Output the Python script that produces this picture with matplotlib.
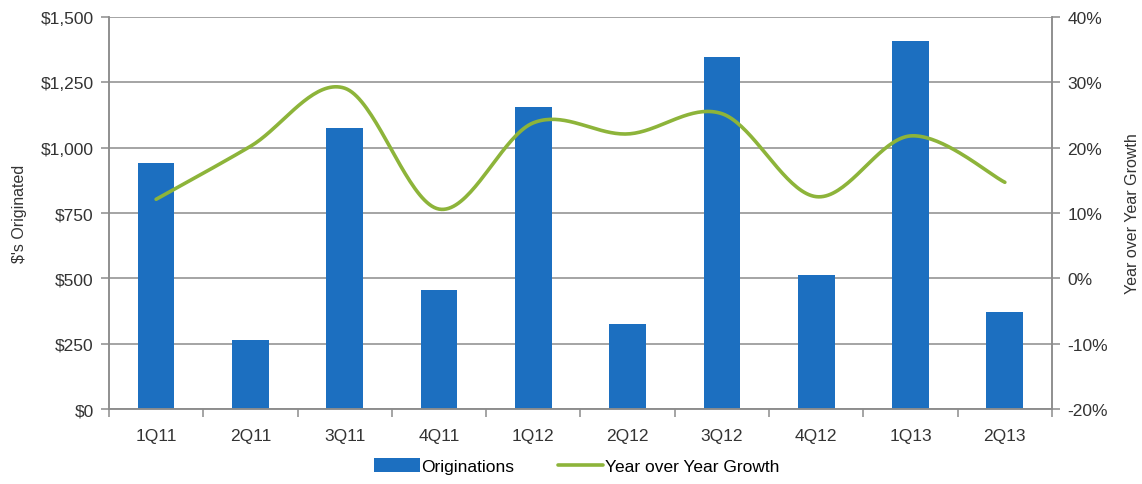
import numpy as np
import matplotlib
matplotlib.use('Agg')
import matplotlib.pyplot as plt
from matplotlib.ticker import FuncFormatter, FixedLocator

plt.rcParams['font.family'] = ['Liberation Sans', 'DejaVu Sans']

quarters = ['1Q11', '2Q11', '3Q11', '4Q11', '1Q12', '2Q12', '3Q12', '4Q12', '1Q13', '2Q13']
originations = [941, 264, 1075, 456, 1156, 325, 1347, 512, 1408, 371]
yoy_growth = [12.1, 20.2, 29.1, 10.6, 23.8, 22.1, 25.2, 12.5, 21.8, 14.7]

BLUE = '#1c6fc0'
GREEN = '#8db43a'
GRAY = '#8c8c8c'


def smooth_curve(x, y, steps=40):
    # cubic bezier through points, catmull-rom style tangents (like spreadsheet "smoothed line")
    x = np.asarray(x, float)
    y = np.asarray(y, float)
    n = len(x)
    xs, ys = [], []
    for i in range(n - 1):
        p0 = (x[max(i - 1, 0)], y[max(i - 1, 0)])
        p1 = (x[i], y[i])
        p2 = (x[i + 1], y[i + 1])
        p3 = (x[min(i + 2, n - 1)], y[min(i + 2, n - 1)])
        c1 = (p1[0] + (p2[0] - p0[0]) / 6, p1[1] + (p2[1] - p0[1]) / 6)
        c2 = (p2[0] - (p3[0] - p1[0]) / 6, p2[1] - (p3[1] - p1[1]) / 6)
        t = np.linspace(0, 1, steps)
        b0 = (1 - t) ** 3
        b1 = 3 * (1 - t) ** 2 * t
        b2 = 3 * (1 - t) * t ** 2
        b3 = t ** 3
        xs.append(b0 * p1[0] + b1 * c1[0] + b2 * c2[0] + b3 * p2[0])
        ys.append(b0 * p1[1] + b1 * c1[1] + b2 * c2[1] + b3 * p2[1])
    return np.concatenate(xs), np.concatenate(ys)


fig = plt.figure(figsize=(11.42, 4.85), dpi=100)
ax = fig.add_axes([0.0954, 0.1546, 0.9212 - 0.0954, 0.9629 - 0.1546])
x = np.arange(len(quarters))

ax.set_axisbelow(True)
ax.yaxis.grid(True, color=GRAY, lw=1.1)
bars = ax.bar(x, originations, width=0.39, color=BLUE, label='Originations', zorder=2)
ax.set_xlim(-0.5, len(quarters) - 0.5)
ax.set_ylim(0, 1500)
ax.set_yticks(np.arange(0, 1501, 250))
ax.yaxis.set_major_formatter(FuncFormatter(lambda v, p: '${:,.0f}'.format(v)))
ax.set_xticks(x)
ax.set_xticklabels(quarters)
ax.xaxis.set_minor_locator(FixedLocator(np.arange(-0.5, len(quarters), 1.0)))
ax.tick_params(axis='x', which='major', length=0, pad=14, labelsize=12.5, colors='#333333')
ax.tick_params(axis='x', which='minor', length=6, color=GRAY, width=1.1, direction='out')
ax.tick_params(axis='y', length=6, color=GRAY, width=1.1, labelsize=12.5, labelcolor='#333333', pad=5)
ax.set_ylabel("$'s Originated", fontsize=11.5, color='#333333', labelpad=10)
for s in ['top']:
    ax.spines[s].set_visible(False)
for s in ['left', 'bottom', 'right']:
    ax.spines[s].set_color(GRAY)
    ax.spines[s].set_linewidth(1.1)

ax2 = ax.twinx()
sx, sy = smooth_curve(x, yoy_growth)
line, = ax2.plot(sx, sy, color=GREEN, lw=2.6, solid_capstyle='round', label='Year over Year Growth', zorder=3)
ax2.set_ylim(-20, 40)
ax2.set_yticks(np.arange(-20, 41, 10))
ax2.yaxis.set_major_formatter(FuncFormatter(lambda v, p: '{:.0f}%'.format(v)))
ax2.tick_params(axis='y', length=6, color=GRAY, width=1.1, labelsize=12.5, labelcolor='#333333', pad=5)
ax2.set_ylabel('Year over Year Growth', fontsize=11.5, color='#333333', labelpad=12)
ax2.spines['top'].set_visible(False)
for s in ['left', 'bottom', 'right']:
    ax2.spines[s].set_color(GRAY)
    ax2.spines[s].set_linewidth(1.1)

fig.legend([bars, line], ['Originations', 'Year over Year Growth'], loc='center',
           bbox_to_anchor=(0.505, 0.037), ncol=2, frameon=False, fontsize=12.5,
           handlelength=2.6, handleheight=0.9, columnspacing=2.5, handletextpad=0.1)

fig.savefig('out.png', dpi=100, facecolor='white')
